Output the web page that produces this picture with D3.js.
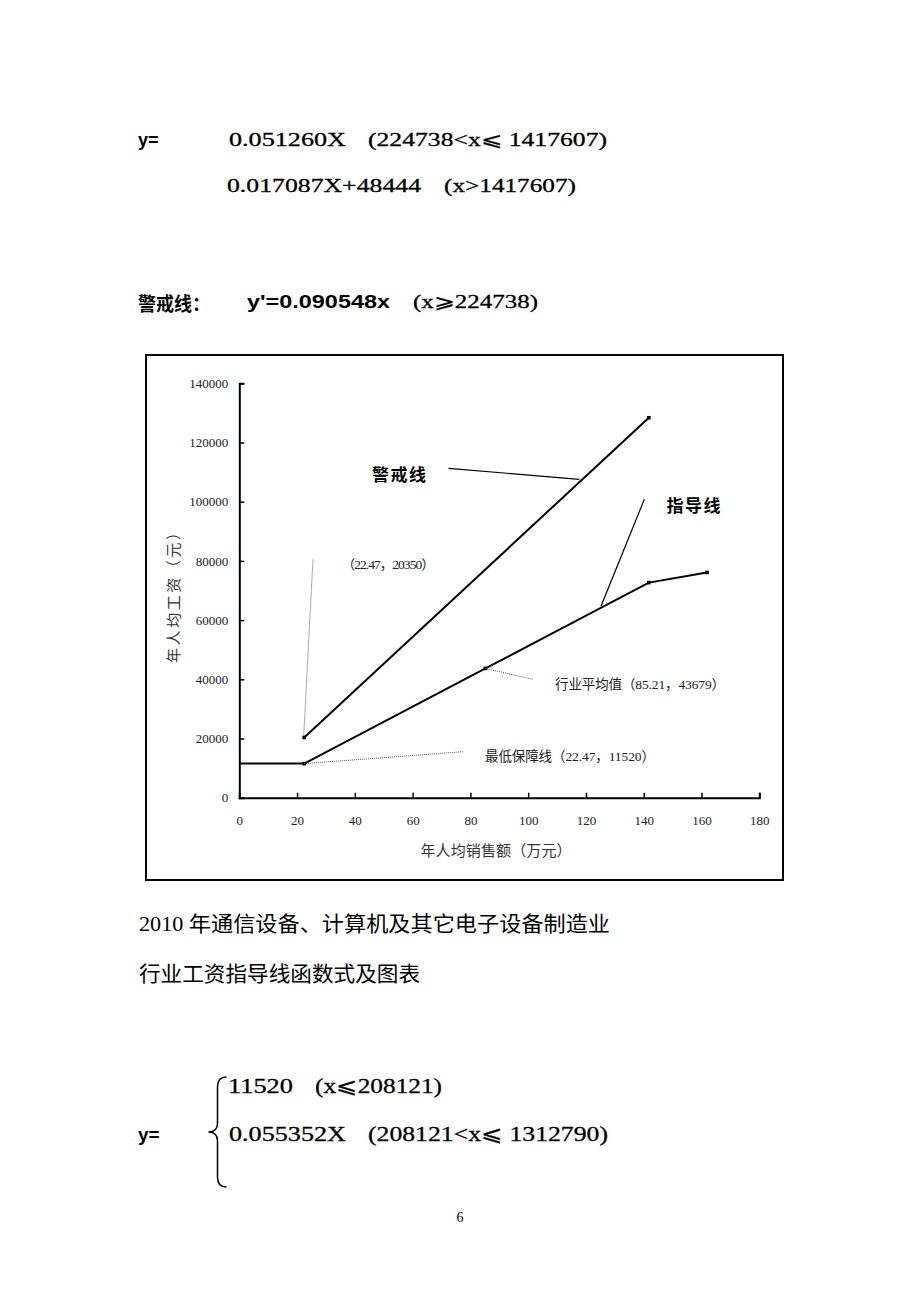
<!DOCTYPE html>
<html><head><meta charset="utf-8">
<script src="https://cdn.jsdelivr.net/npm/d3@7"></script>
<style>html,body{margin:0;padding:0;background:#fff;}svg{display:block;}</style>
</head><body>
<script>
// ---- data ----
const guideX = [0, 22.47, 85.21, 141.76, 161.9];
const guideY = [11520, 11520, 43679, 72666, 76107];
const warnX = [22.47, 141.76];
const warnY = [20350, 128362];
const xTicks = [0, 20, 40, 60, 80, 100, 120, 140, 160, 180];
const yTicks = [0, 20000, 40000, 60000, 80000, 100000, 120000, 140000];
const xTitle = "年人均销售额（万元）";
const yTitle = "年人均工资（元）";
const warnName = "警戒线";
const guideName = "指导线";
const labelWarnPt = "（22.47，20350）";
const labelAvg = "行业平均值（85.21，43679）";
const labelMin = "最低保障线（22.47，11520）";

const W = 920, H = 1302;
const svg = d3.select("body").append("svg").attr("width", W).attr("height", H);
svg.append("rect").attr("width", W).attr("height", H).attr("fill", "#fff");

const serif = "'Liberation Serif','Noto Sans CJK SC',serif";
const sans = "'Liberation Sans','Noto Sans CJK SC',sans-serif";
const cjk = "'Noto Sans CJK SC',sans-serif";

// ---- page text ----
function txt(x, y, s, o) {
  const t = svg.append("text").attr("x", x).attr("y", y).text(s)
    .attr("font-family", o.f || serif).attr("font-size", o.size || 18)
    .attr("font-weight", o.w || "normal").attr("fill", "#000");
  if (o.len) t.attr("textLength", o.len).attr("lengthAdjust", "spacingAndGlyphs");
  if (o.db) t.attr("dominant-baseline", o.db);
  if (o.anchor) t.attr("text-anchor", o.anchor);
  if (o.sw) t.attr("stroke", "#000").attr("stroke-width", o.sw);
  return t;
}
const F = {size: 19, sw: 0.3};
txt(138, 146, "y=", {f: sans, w: "bold", size: 18});
txt(229, 146, "0.051260X", {...F, len: 117});
txt(368, 146, "(224738<x⩽ 1417607)", {...F, len: 239});
txt(227, 192, "0.017087X+48444", {...F, len: 194});
txt(444, 192, "(x>1417607)", {...F, len: 132});
txt(138, 302, "警戒线：", {f: cjk, w: "bold", size: 19, db: "central", len: 72});
txt(247, 307.5, "y'=0.090548x", {f: sans, w: "bold", size: 18, len: 143});
txt(413, 307.5, "(x⩾224738)", {...F, len: 125});

// ---- chart ----
svg.append("rect").attr("x", 146).attr("y", 355).attr("width", 637).attr("height", 525)
  .attr("fill", "none").attr("stroke", "#000").attr("stroke-width", 2);

const x = d3.scaleLinear().domain([0, 180]).range([239.3, 759.3]);
const y = d3.scaleLinear().domain([0, 140000]).range([797.7, 383.3]);

const gx = svg.append("g").attr("transform", `translate(0,${y(0)})`)
  .call(d3.axisTop(x).tickValues(xTicks).tickSize(5).tickFormat(d3.format("d")));
gx.selectAll("text").attr("y", 23).attr("dy", "0.35em");
const gy = svg.append("g").attr("transform", `translate(${x(0)},0)`)
  .call(d3.axisRight(y).tickValues(yTicks).tickSize(5).tickFormat(d3.format("d")));
gy.selectAll("text").attr("x", -11).attr("text-anchor", "end");
[gx, gy].forEach(g => {
  g.select(".domain").attr("stroke", "#000").attr("stroke-width", 2);
  g.selectAll(".tick line").attr("stroke", "#000").attr("stroke-width", 1.5);
  g.selectAll("text").attr("font-family", serif).attr("font-size", 13).attr("fill", "#222");
});

// axis titles
svg.append("text").attr("x", 496).attr("y", 849).attr("text-anchor", "middle")
  .attr("dominant-baseline", "central").attr("font-family", cjk).attr("font-size", 15)
  .attr("fill", "#333").attr("textLength", 151).text(xTitle);
svg.append("text").attr("transform", "translate(172,594) rotate(-90)").attr("text-anchor", "middle")
  .attr("dominant-baseline", "central").attr("font-family", cjk).attr("font-size", 15)
  .attr("fill", "#333").attr("textLength", 138).text(yTitle);

// data lines
const line = d3.line().x(d => x(d[0])).y(d => y(d[1]));
const guide = guideX.map((v, i) => [v, guideY[i]]);
const warn = warnX.map((v, i) => [v, warnY[i]]);
[guide, warn].forEach(data => {
  svg.append("path").datum(data).attr("d", line).attr("fill", "none")
    .attr("stroke", "#000").attr("stroke-width", 2);
  svg.selectAll(null).data(data.filter(d => d[0] > 0)).enter().append("rect")
    .attr("x", d => x(d[0]) - 1.8).attr("y", d => y(d[1]) - 1.8)
    .attr("width", 3.6).attr("height", 3.6).attr("fill", "#000");
});

// annotations (data units)
function leader(a, b, dotted) {
  svg.append("line").attr("x1", x(a[0])).attr("y1", y(a[1])).attr("x2", x(b[0])).attr("y2", y(b[1]))
    .attr("stroke", dotted ? "#555" : "#000").attr("stroke-width", dotted ? 1 : 1.2)
    .attr("stroke-dasharray", dotted ? "1,1" : null);
}
leader([72.4, 111270], [117.7, 107560], false);
leader([140.2, 100810], [125.2, 64660], false);
leader([25.5, 80430], [22.3, 21000], true);
leader([85.21, 43679], [101.6, 40000], true);
leader([22.47, 11520], [77.4, 15530], true);

function label(px, py, s, o) {
  const t = svg.append("text").attr("x", x(px)).attr("y", y(py)).text(s)
    .attr("dominant-baseline", "central").attr("fill", o.fill || "#000")
    .attr("font-family", o.f).attr("font-size", o.size).attr("font-weight", o.w || "normal")
    .attr("text-anchor", o.anchor || "start");
  if (o.len) t.attr("textLength", o.len);
}
label(55.3, 109600, warnName, {f: cjk, size: 17, w: "bold", anchor: "middle", len: 54});
label(157.2, 99190, guideName, {f: cjk, size: 17, w: "bold", anchor: "middle", len: 54});
label(35.45, 78900, labelWarnPt, {f: serif, size: 13.5, len: 93, fill: "#222"});
label(109.3, 38380, labelAvg, {f: serif, size: 13.5, len: 170, fill: "#222"});
label(85.05, 13850, labelMin, {f: serif, size: 13.5, len: 170, fill: "#222"});

// ---- page text below chart ----
txt(139, 924, "2010 年通信设备、计算机及其它电子设备制造业", {size: 21, db: "central", len: 471});
txt(139, 972, "行业工资指导线函数式及图表", {f: cjk, size: 21, db: "central", len: 281});
const G = {size: 21, sw: 0.3};
txt(228, 1092.5, "11520", {...G, len: 65});
txt(315, 1092.5, "(x⩽208121)", {...G, len: 127});
txt(138, 1140.5, "y=", {f: sans, w: "bold", size: 19});
txt(229, 1140.5, "0.055352X", {...G, len: 117});
txt(368, 1140.5, "(208121<x⩽ 1312790)", {...G, len: 240});
svg.append("path")
  .attr("d", "M226.5,1077 Q217.5,1077 217.5,1087 L217.5,1123 Q217.5,1132 208.5,1132 Q217.5,1132 217.5,1141 L217.5,1177 Q217.5,1187 226.5,1187")
  .attr("fill", "none").attr("stroke", "#000").attr("stroke-width", 1.5);
txt(460, 1217, "6", {size: 14, db: "central", anchor: "middle"});
</script>
</body></html>
